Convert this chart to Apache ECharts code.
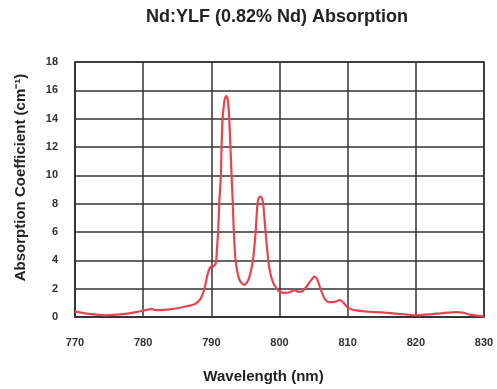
<!DOCTYPE html>
<html>
<head>
<meta charset="utf-8">
<script src="https://cdn.jsdelivr.net/npm/echarts@6/dist/echarts.min.js"></script>
<style>
  html, body { margin: 0; padding: 0; background: #fff; }
  #chart { width: 497px; height: 389px; }
</style>
</head>
<body>
<div id="chart"></div>
<script>
// wavelength (nm) and absorption coefficient (cm^-1)
var wavelength = [770, 772, 774.5, 777, 779, 780, 780.7, 781.2, 781.8, 783, 784.5, 786.4, 787.6, 788.3, 788.8, 789.1, 789.5, 789.9, 790.4, 790.7, 790.85, 791.0, 791.16, 791.4, 791.5, 791.65, 791.9, 792.05, 792.2, 792.35, 792.45, 792.63, 792.8, 792.97, 793.15, 793.3, 793.55, 793.9, 794.2, 794.8, 795.3, 795.6, 796.1, 796.5, 796.75, 796.95, 797.2, 797.45, 797.65, 797.96, 798.35, 798.7, 799.1, 799.6, 800, 800.7, 801.5, 802.2, 802.8, 803.3, 803.9, 804.5, 805.1, 805.5, 806, 806.6, 807.2, 807.9, 808.5, 808.9, 809.4, 809.9, 810.5, 811.5, 813, 815, 817.5, 820, 822, 824, 826, 827, 828, 830];
var absorption = [0.4, 0.22, 0.12, 0.2, 0.35, 0.45, 0.52, 0.58, 0.48, 0.5, 0.58, 0.76, 0.92, 1.2, 1.7, 2.2, 3.1, 3.55, 3.6, 3.9, 5.0, 6.0, 8.0, 10.0, 12.0, 14.0, 15.2, 15.5, 15.6, 15.5, 15.2, 14.0, 12.0, 10.0, 8.0, 6.0, 4.0, 3.0, 2.55, 2.27, 2.5, 2.85, 4.0, 6.0, 7.9, 8.4, 8.5, 8.35, 7.8, 6.0, 4.0, 3.0, 2.4, 2.0, 1.8, 1.7, 1.75, 1.9, 1.78, 1.8, 2.1, 2.5, 2.85, 2.7, 2.0, 1.3, 1.05, 1.05, 1.15, 1.2, 1.0, 0.72, 0.55, 0.45, 0.38, 0.32, 0.22, 0.12, 0.18, 0.28, 0.35, 0.3, 0.15, 0.05];

var seriesData = wavelength.map(function (w, i) { return [w, absorption[i]]; });

var font = '"Liberation Sans", Arial, sans-serif';
var gridLine = { lineStyle: { color: '#333', width: 1.5 } };

var myChart = echarts.init(document.getElementById('chart'));
myChart.setOption({
  animation: false,
  title: {
    text: 'Nd:YLF (0.82% Nd) Absorption',
    left: 272,
    textAlign: 'center',
    top: 3,
    textStyle: { fontFamily: font, fontSize: 18, fontWeight: 'bold', color: '#222' }
  },
  grid: { left: 75, right: 13, top: 62, bottom: 68, show: true, borderColor: '#333', borderWidth: 1.5 },
  xAxis: {
    type: 'value',
    min: 770,
    max: 830,
    interval: 10,
    name: 'Wavelength (nm)',
    nameLocation: 'middle',
    nameGap: 52,
    nameTextStyle: { fontFamily: font, fontSize: 15, fontWeight: 'bold', color: '#222', padding: [0, 32, 0, 0] },
    axisLine: { show: true, lineStyle: { color: '#333', width: 1.5 } },
    axisTick: { show: false },
    splitLine: gridLine,
    axisLabel: { fontFamily: font, fontSize: 11, fontWeight: 'bold', color: '#333', margin: 20 }
  },
  yAxis: {
    type: 'value',
    min: 0,
    max: 18,
    interval: 2,
    name: 'Absorption Coefficient (cm⁻¹)',
    nameLocation: 'middle',
    nameGap: 47,
    nameRotate: 90,
    nameTextStyle: { fontFamily: font, fontSize: 15, fontWeight: 'bold', color: '#222', padding: [0, 0, 0, 24] },
    axisLine: { show: true, lineStyle: { color: '#333', width: 1.5 } },
    axisTick: { show: false },
    splitLine: gridLine,
    axisLabel: { fontFamily: font, fontSize: 11, fontWeight: 'bold', color: '#333', margin: 17 }
  },
  series: [{
    type: 'line',
    data: seriesData,
    smooth: 0.2,
    showSymbol: false,
    lineStyle: { color: '#e64550', width: 2.2 }
  }]
});
</script>
</body>
</html>
